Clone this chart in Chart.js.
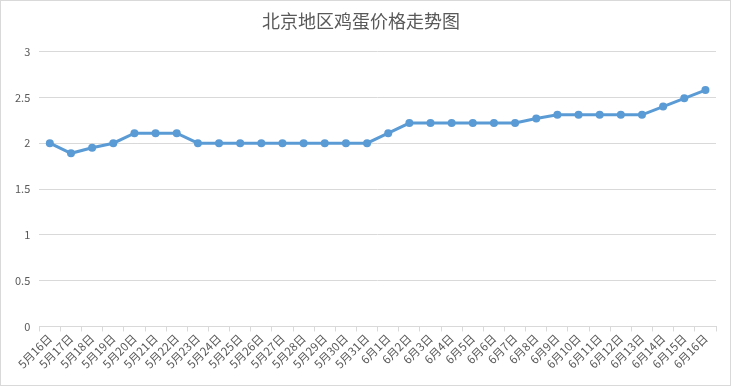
<!DOCTYPE html>
<html>
<head>
<meta charset="utf-8">
<script src="https://cdn.jsdelivr.net/npm/chart.js@4"></script>
<style>
  html, body { margin: 0; padding: 0; background: #fff; }
  #wrap { width: 731px; height: 386px; box-sizing: border-box; border: 1px solid #d9d9d9; }
</style>
</head>
<body>
<div id="wrap"><canvas id="c" width="729" height="384"></canvas></div>
<script>
// dates, may 16 .. june 16
const days = ['5月16日','5月17日','5月18日','5月19日','5月20日','5月21日','5月22日','5月23日',
  '5月24日','5月25日','5月26日','5月27日','5月28日','5月29日','5月30日','5月31日',
  '6月1日','6月2日','6月3日','6月4日','6月5日','6月6日','6月7日','6月8日',
  '6月9日','6月10日','6月11日','6月12日','6月13日','6月14日','6月15日','6月16日'];
const price = [2.0, 1.89, 1.95, 2.0, 2.11, 2.11, 2.11, 2.0,
  2.0, 2.0, 2.0, 2.0, 2.0, 2.0, 2.0, 2.0,
  2.11, 2.22, 2.22, 2.22, 2.22, 2.22, 2.22, 2.27,
  2.31, 2.31, 2.31, 2.31, 2.31, 2.4, 2.49, 2.58];
const yTicks = [0, 0.5, 1, 1.5, 2, 2.5, 3];

const FONT = '"Noto Sans CJK SC", "Microsoft YaHei", sans-serif';
const grey = '#595959';

new Chart(document.getElementById('c'), {
  type: 'line',
  data: {
    labels: days,
    datasets: [{
      label: '价格',
      data: price,
      borderColor: '#5b9bd5',
      backgroundColor: '#5b9bd5',
      borderWidth: 3,
      pointRadius: 4,
      pointBorderWidth: 0,
      pointHoverRadius: 4,
      tension: 0
    }]
  },
  options: {
    responsive: false,
    animation: false,
    layout: { padding: { left: 5, right: 14, top: 0, bottom: 14 } },
    plugins: {
      legend: { display: false },
      tooltip: { enabled: false },
      title: {
        display: true,
        text: '北京地区鸡蛋价格走势图',
        color: grey,
        font: { family: FONT, size: 18, weight: 'normal' },
        padding: { top: 9, bottom: 20 }
      }
    },
    scales: {
      x: {
        offset: true,
        grid: { offset: true, drawOnChartArea: false, drawTicks: true, tickLength: 5, color: '#d9d9d9' },
        border: { display: true, color: '#d9d9d9' },
        ticks: {
          color: grey,
          font: { family: FONT, size: 11.5 },
          maxRotation: 45, minRotation: 45,
          autoSkip: false,
          padding: 0
        }
      },
      y: {
        min: 0, max: 3,
        afterBuildTicks: ax => { ax.ticks = yTicks.map(v => ({ value: v })); },
        grid: { color: '#d9d9d9', drawTicks: false },
        border: { display: false },
        ticks: {
          color: grey,
          font: { family: FONT, size: 11 },
          padding: 9,
          callback: v => String(v)
        }
      }
    }
  }
});
</script>
</body>
</html>
